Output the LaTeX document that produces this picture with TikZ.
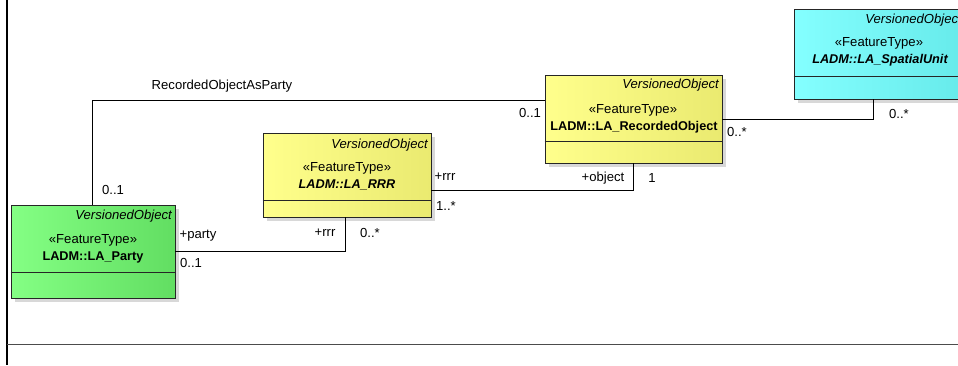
\documentclass[tikz,border=0pt]{standalone}
\usepackage{fontspec}
\setmainfont{Liberation Sans}
\usetikzlibrary{shadows}

\definecolor{grnL}{HTML}{84FF84}
\definecolor{grnR}{HTML}{62DE62}
\definecolor{ylwL}{HTML}{FFFF8C}
\definecolor{ylwR}{HTML}{EAEA70}
\definecolor{cynL}{HTML}{84FFFF}
\definecolor{cynR}{HTML}{66EAEA}

\begin{document}
\begin{tikzpicture}[x=1pt,y=-1pt,
  every node/.style={font=\fontsize{13.1}{15}\selectfont, inner sep=0pt},
  classbox/.style={draw=black!85, line width=0.9pt, rectangle,
    drop shadow={shadow xshift=4pt, shadow yshift=-4pt, fill=black!30}},
  sepline/.style={draw=black!85, line width=0.9pt},
  assoc/.style={draw=black, line width=0.8pt},
  stereo/.style={},
  vobj/.style={anchor=east, font=\fontsize{13.1}{15}\selectfont\itshape},
  cname/.style={font=\fontsize{12.7}{15}\selectfont\bfseries},
  aname/.style={font=\fontsize{12.7}{15}\selectfont\bfseries\itshape},
  role/.style={}
]
\clip (0,0) rectangle (958,365);
\useasboundingbox (0,0) rectangle (958,365);

% frame lines
\draw[black, line width=2pt] (7,0) -- (7,365);
\draw[black!70, line width=0.9pt] (7,344) -- (958,344);

% LA_Party
\node[classbox, left color=grnL, right color=grnR,
      minimum width=164pt, minimum height=93pt] (party) at (93,251.5) {};
\draw[sepline] ([yshift=-20.5pt]party.west) -- ([yshift=-20.5pt]party.east);
\node[vobj] (party-vo) at (172,216) {VersionedObject};
\node[stereo] (party-st) at (93,240) {«FeatureType»};
\node[cname] (party-nm) at (93,257) {LADM::LA\_Party};

% LA_RRR
\node[classbox, left color=ylwL, right color=ylwR,
      minimum width=168pt, minimum height=84pt] (rrr) at (347,175) {};
\draw[sepline] ([yshift=-25pt]rrr.west) -- ([yshift=-25pt]rrr.east);
\node[vobj] (rrr-vo) at (428,145) {VersionedObject};
\node[stereo] (rrr-st) at (347,168) {«FeatureType»};
\node[aname] (rrr-nm) at (347,185) {LADM::LA\_RRR};

% LA_RecordedObject
\node[classbox, left color=ylwL, right color=ylwR,
      minimum width=177pt, minimum height=88pt] (recobj) at (633.5,119) {};
\draw[sepline] ([yshift=-22pt]recobj.west) -- ([yshift=-22pt]recobj.east);
\node[vobj] (recobj-vo) at (719,85) {VersionedObject};
\node[stereo] (recobj-st) at (633,110) {«FeatureType»};
\node[cname] (recobj-nm) at (634,127) {LADM::LA\_RecordedObject};

% LA_SpatialUnit
\node[classbox, left color=cynL, right color=cynR,
      minimum width=172pt, minimum height=90pt] (spatial) at (880,54) {};
\draw[sepline] ([yshift=-22pt]spatial.west) -- ([yshift=-22pt]spatial.east);
\node[vobj] (spatial-vo) at (962,20) {VersionedObject};
\node[stereo] (spatial-st) at (879,43) {«FeatureType»};
\node[aname] (spatial-nm) at (880,60) {LADM::LA\_SpatialUnit};

% associations
\draw[assoc] ([xshift=-1pt]party.north) |- ([yshift=19pt]recobj.west);
\draw[assoc] (party.east) -| ([xshift=-2pt]rrr.south);
\draw[assoc] ([yshift=-15pt]rrr.east) -| (recobj.south);
\draw[assoc] (recobj.east) -| ([xshift=-7pt]spatial.south);

% association names and role labels
\node (l-rop) at (222,86) {RecordedObjectAsParty};
\node[role] (l-rop-a) at (113,190) {0..1};
\node[role] (l-rop-b) at (530,113) {0..1};
\node[role] (l-party) at (198,236) {+party};
\node[role] (l-party-m) at (191,263) {0..1};
\node[role] (l-rrr-a) at (325,233) {+rrr};
\node[role] (l-rrr-am) at (370,233) {0..*};
\node[role] (l-rrr-b) at (445,177) {+rrr};
\node[role] (l-rrr-bm) at (446,206) {1..*};
\node[role] (l-object) at (603,178) {+object};
\node[role] (l-object-m) at (652,178) {1};
\node[role] (l-su-a) at (737,132) {0..*};
\node[role] (l-su-b) at (899,114) {0..*};
\end{tikzpicture}
\end{document}
